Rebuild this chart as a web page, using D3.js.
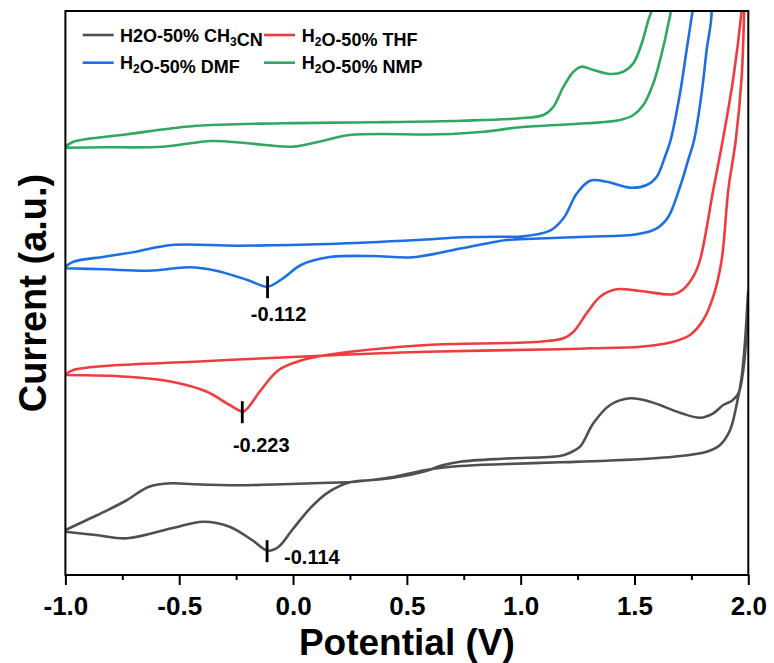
<!DOCTYPE html>
<html><head><meta charset="utf-8">
<script src="https://cdn.jsdelivr.net/npm/d3@7"></script>
<style>
body{margin:0;background:#fff}
svg{display:block}
text{font-family:"Liberation Sans",Arial,Helvetica,sans-serif;font-weight:bold;fill:#000}
</style>
</head><body>
<svg id="chart" width="774" height="663"></svg>
<script>
// ---------- data ----------
const tickValues = [-1.0, -0.5, 0.0, 0.5, 1.0, 1.5, 2.0];
const tickLabels = ["-1.0", "-0.5", "0.0", "0.5", "1.0", "1.5", "2.0"];
const minorTickValues = [-0.75, -0.25, 0.25, 0.75, 1.25, 1.75];

const seriesNames = ["H2O-50% CH_3CN", "H_2O-50% THF", "H_2O-50% DMF", "H_2O-50% NMP"];

// H2O-50% CH3CN (arbitrary current units)
const potCH3CN = [-1.000,-0.906,-0.828,-0.729,-0.633,-0.533,-0.435,-0.239,-0.044,0.154,0.271,0.447,0.584,0.734,0.938,1.173,1.378,1.671,1.817,1.876,1.920,1.950,1.971,1.986,2.000,
  1.993,1.978,1.957,1.928,1.890,1.846,1.788,1.700,1.569,1.481,1.393,1.319,1.261,1.217,1.173,0.938,0.734,0.660,0.584,0.447,0.349,0.250,0.148,0.075,-0.004,-0.063,-0.112,-0.180,-0.279,-0.395,-0.533,-0.729,-0.867,-1.000];
const curCH3CN = [4.50,5.50,6.33,7.50,8.83,9.17,9.07,8.97,9.07,9.23,9.33,9.83,10.50,10.90,11.10,11.27,11.43,11.83,12.33,13.00,14.50,17.17,19.83,23.50,28.50,
  24.50,20.50,18.17,17.43,17.00,16.17,15.73,16.23,17.33,17.67,17.00,15.17,12.83,12.23,11.90,11.65,11.33,11.00,10.40,9.75,9.50,9.27,8.17,6.67,4.50,2.83,2.43,3.50,4.83,5.33,4.67,3.67,4.00,4.33];

// H2O-50% THF
const potTHF = [-1.000,-0.965,-0.828,-0.435,-0.145,0.148,0.587,1.173,1.305,1.525,1.671,1.744,1.802,1.846,1.883,1.912,1.945,1.971,1.982,1.990,
  1.971,1.935,1.888,1.846,1.788,1.758,1.711,1.671,1.525,1.422,1.349,1.290,1.232,1.188,1.085,0.938,0.587,0.148,0.035,-0.063,-0.141,-0.200,-0.220,-0.279,-0.378,-0.533,-0.729,-1.000];
const curTHF = [20.07,20.50,20.90,21.33,21.65,21.95,22.33,22.57,22.67,22.83,23.33,24.00,25.50,27.83,31.50,38.50,43.50,49.83,56.50,62.00,
  56.50,49.83,43.50,38.50,31.50,29.83,28.50,28.07,28.40,28.57,27.83,26.17,24.33,23.67,23.33,23.20,23.00,22.00,21.45,20.50,18.50,16.67,16.33,17.00,18.33,19.33,19.83,20.00];

// H2O-50% DMF
const potDMF = [-1.000,-0.965,-0.828,-0.690,-0.533,-0.239,0.154,0.545,0.742,0.938,0.997,1.129,1.188,1.247,1.305,1.378,1.481,1.554,1.598,1.634,1.659,1.700,1.729,1.756,1.800,
  1.839,1.817,1.795,1.762,1.736,1.700,1.649,1.598,1.510,1.290,0.997,0.938,0.742,0.526,0.349,0.154,0.035,-0.044,-0.112,-0.200,-0.338,-0.455,-0.633,-0.828,-1.000];
const curDMF = [30.83,31.33,31.83,32.33,33.00,32.93,33.10,33.50,33.77,33.83,33.83,34.43,35.67,38.17,39.43,39.33,38.73,39.00,39.83,41.83,43.50,48.17,52.50,56.50,63.00,
  56.50,52.50,48.17,43.50,41.50,38.83,35.83,34.67,34.07,33.83,33.57,33.50,32.67,31.77,31.90,31.77,31.00,29.67,28.83,29.50,30.43,30.77,30.43,30.57,30.67];

// H2O-50% NMP
const potNMP = [-1.000,-0.965,-0.729,-0.435,-0.044,0.349,0.742,0.997,1.100,1.144,1.188,1.232,1.268,1.319,1.393,1.451,1.495,1.532,1.561,1.576,1.615,
  1.659,1.649,1.620,1.583,1.539,1.495,1.437,1.290,0.997,0.839,0.644,0.250,0.114,-0.004,-0.200,-0.357,-0.572,-0.828,-1.000];
const curNMP = [42.83,43.33,44.07,44.90,45.17,45.27,45.43,45.67,46.00,46.83,48.83,50.33,50.83,50.50,50.10,50.33,51.17,53.17,55.50,56.50,62.00,
  56.50,55.17,52.17,49.17,47.00,46.00,45.50,45.17,44.77,44.33,44.07,44.00,43.33,42.83,43.17,43.40,42.83,42.77,42.73];

// marked reduction peaks
const peakPotentials = [-0.114, -0.223, -0.112];
const peakLabels = ["-0.114", "-0.223", "-0.112"];

// ---------- layout / style ----------
const plot = {left: 65.4, right: 748.3, top: 11, bottom: 575};
const colors = ["#4f4f4f", "#f03c3e", "#1d6fe3", "#32a761"];
const series = [
  {name: seriesNames[0], x: potCH3CN, y: curCH3CN, color: colors[0]},
  {name: seriesNames[1], x: potTHF, y: curTHF, color: colors[1]},
  {name: seriesNames[2], x: potDMF, y: curDMF, color: colors[2]},
  {name: seriesNames[3], x: potNMP, y: curNMP, color: colors[3]}
];

const svg = d3.select("#chart");
const x = d3.scaleLinear().domain([-1, 2]).range([plot.left, plot.right]);
const y = d3.scaleLinear().domain([0, 56.4]).range([plot.bottom, plot.top]);

svg.append("defs").append("clipPath").attr("id", "clip")
  .append("rect").attr("x", plot.left).attr("y", plot.top)
  .attr("width", plot.right - plot.left).attr("height", plot.bottom - plot.top);

const line = d3.line().x(d => x(d[0])).y(d => y(d[1])).curve(d3.curveCatmullRom.alpha(0.5));

const gCurves = svg.append("g").attr("clip-path", "url(#clip)");
series.forEach(s => {
  const pts = s.x.map((v, i) => [v, s.y[i]]);
  gCurves.append("path").attr("d", line(pts))
    .attr("fill", "none").attr("stroke", s.color).attr("stroke-width", 2.6)
    .attr("stroke-linejoin", "round").attr("stroke-linecap", "round");
});

// peak markers
const peakSeries = [0, 1, 2];
const labelLayout = [
  {dx: 17, dy: 13.5, anchor: "start"},
  {dx: 19, dy: 40, anchor: "middle"},
  {dx: 11, dy: 34, anchor: "middle"}
];
peakPotentials.forEach((p, k) => {
  const s = series[peakSeries[k]];
  let minV = Infinity;
  s.x.forEach((v, i) => { if (Math.abs(v - p) < 0.06 && s.y[i] < minV) minV = s.y[i]; });
  const px = x(p), py = y(minV);
  svg.append("line").attr("x1", px).attr("x2", px).attr("y1", py - 10.5).attr("y2", py + 11.5)
    .attr("stroke", "#000").attr("stroke-width", 2.8);
  svg.append("text").attr("x", px + labelLayout[k].dx).attr("y", py + labelLayout[k].dy)
    .attr("text-anchor", labelLayout[k].anchor).attr("font-size", 20).text(peakLabels[k]);
});

// frame
svg.append("rect").attr("x", plot.left).attr("y", plot.top)
  .attr("width", plot.right - plot.left).attr("height", plot.bottom - plot.top)
  .attr("fill", "none").attr("stroke", "#000").attr("stroke-width", 2);

// x axis
const gx = svg.append("g").attr("transform", `translate(0,${plot.bottom})`)
  .call(d3.axisBottom(x).tickValues(tickValues).tickFormat((d, i) => tickLabels[i]).tickSize(10).tickPadding(4));
gx.select(".domain").remove();
gx.selectAll(".tick line").attr("stroke", "#000").attr("stroke-width", 2);
gx.selectAll(".tick text").attr("y", 40).attr("dy", 0)
  .style("font-family", '"Liberation Sans",Arial,sans-serif').style("font-weight", "bold")
  .style("font-size", "26px").attr("fill", "#000");
const gxm = svg.append("g").attr("transform", `translate(0,${plot.bottom})`)
  .call(d3.axisBottom(x).tickValues(minorTickValues).tickFormat("").tickSize(5));
gxm.select(".domain").remove();
gxm.selectAll(".tick line").attr("stroke", "#000").attr("stroke-width", 2);

// axis titles
svg.append("text").attr("x", (plot.left + plot.right) / 2).attr("y", 655)
  .attr("text-anchor", "middle").attr("font-size", 37).text("Potential (V)");
svg.append("text").attr("transform", `translate(46,${(plot.top + plot.bottom) / 2}) rotate(-90)`)
  .attr("text-anchor", "middle").attr("font-size", 38).text("Current (a.u.)");

// legend
const legendPos = [
  {lx: 82.7, ly: 35, tx: 120, ty: 41.5},
  {lx: 264, ly: 35, tx: 301.7, ty: 41.5},
  {lx: 82.7, ly: 62.7, tx: 120, ty: 69},
  {lx: 264, ly: 62.7, tx: 301.7, ty: 69}
];
series.forEach((s, i) => {
  const p = legendPos[i];
  svg.append("line").attr("x1", p.lx).attr("x2", p.lx + 31).attr("y1", p.ly).attr("y2", p.ly)
    .attr("stroke", s.color).attr("stroke-width", 2.6);
  const t = svg.append("text").attr("x", p.tx).attr("y", p.ty).attr("font-size", 18);
  const parts = s.name.split(/_(\d)/);
  parts.forEach((part, j) => {
    if (!part) return;
    if (j % 2 === 1) {
      t.append("tspan").attr("font-size", 12).attr("dy", 4).text(part);
      t.append("tspan").attr("dy", -4).text("");
    } else {
      t.append("tspan").text(part);
    }
  });
});
</script>
</body></html>
